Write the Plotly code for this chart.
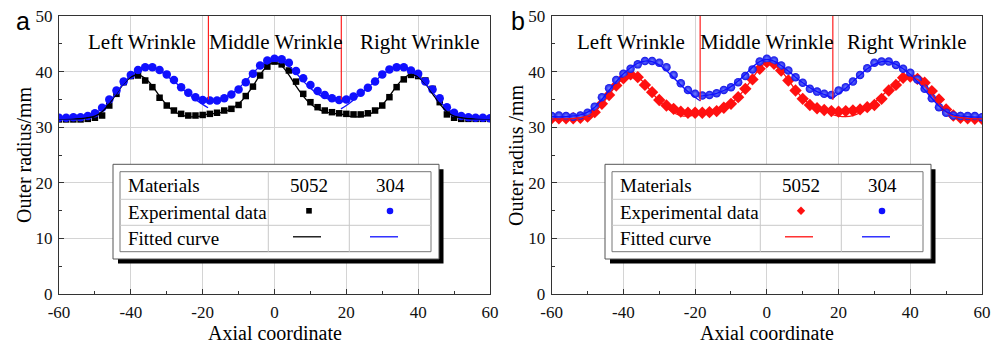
import plotly.graph_objects as go

W, H = 1003, 345
SERIF = "Liberation Serif, Times New Roman, serif"
SANS = "Liberation Sans, Arial, sans-serif"

# ---------------- data ----------------
x_pts = [-60, -58, -56, -54, -52, -50, -48, -46, -44, -42, -40, -38, -36, -34, -32, -30,
         -28, -26, -24, -22, -20, -18, -16, -14, -12, -10, -8, -6, -4, -2, 0,
         2, 4, 6, 8, 10, 12, 14, 16, 18, 20, 22, 24, 26, 28, 30,
         32, 34, 36, 38, 40, 42, 44, 46, 48, 50, 52, 54, 56, 58, 60]

# panel a
a_5052 = [31.4, 31.4, 31.4, 31.4, 31.5, 31.7, 32.1, 33.9, 36.0, 38.1,
          39.2, 39.3, 38.4, 37.2, 35.3, 33.9, 33.0, 32.4, 32.1, 32.1,
          32.2, 32.4, 32.6, 33.0, 33.3, 34.0, 35.6, 37.3, 39.3, 40.9,
          41.8,
          41.3, 40.2, 38.2, 36.0, 34.5, 33.6, 33.0, 32.7, 32.5, 32.4,
          32.3, 32.3, 32.5, 33.0, 33.9, 35.4, 37.2, 38.6, 39.4, 39.2,
          38.4, 36.9, 34.5, 32.3, 31.7, 31.5, 31.5, 31.5, 31.5, 31.5]
a_304 = [31.7, 31.7, 31.8, 31.8, 32.0, 32.5, 33.5, 35.0, 36.6, 38.2,
         39.4, 40.3, 40.8, 40.8, 40.3, 39.5, 38.5, 37.2, 36.2, 35.4,
         34.9, 34.8, 34.8, 35.2, 35.9, 36.8, 38.1, 39.6, 41.1, 42.0,
         42.3,
         42.2, 41.6, 40.1, 38.8, 37.6, 36.5, 35.8, 35.2, 34.9, 35.0,
         35.5, 36.2, 37.1, 38.2, 39.5, 40.4, 40.8, 40.8, 40.2, 39.6,
         38.2, 36.8, 35.2, 33.6, 32.6, 32.0, 31.8, 31.7, 31.7, 31.6]

# panel b
b_5052 = [31.6, 31.6, 31.6, 31.6, 31.7, 31.9, 32.7, 34.2, 35.8, 37.5,
          38.8, 39.5, 39.0, 37.6, 36.3, 34.9, 33.9, 33.3, 32.8, 32.6,
          32.6, 32.6, 32.7, 32.9, 33.5, 34.2, 35.4, 36.9, 38.6, 40.5,
          41.7,
          41.4, 40.2, 38.4, 36.6, 35.1, 34.0, 33.4, 33.1, 32.9, 32.8,
          32.9, 33.0, 33.2, 33.6, 34.0, 35.1, 36.6, 37.6, 38.9, 39.1,
          38.7, 38.0, 36.5, 35.0, 33.2, 32.1, 31.7, 31.6, 31.5, 31.5]
b_304 = [32.0, 32.1, 32.0, 31.9, 32.1, 32.6, 33.7, 35.4, 37.0, 38.5,
         39.6, 40.5, 41.3, 41.9, 41.9, 41.6, 40.8, 39.4, 37.9, 36.7,
         36.0, 35.7, 35.8, 36.1, 36.7, 37.2, 38.1, 39.2, 40.4, 41.8,
         42.3,
         42.0, 41.1, 40.2, 39.0, 38.0, 36.9, 36.4, 36.0, 35.8, 36.6,
         37.2, 38.2, 39.4, 40.6, 41.6, 41.8, 41.8, 41.2, 40.5, 39.8,
         38.6, 36.9, 35.2, 33.6, 32.6, 32.1, 32.0, 32.0, 32.0, 31.8]

# fitted curves (three wrinkle segments separated by None)
fit_x = [-60, -56, -52, -50, -48, -46, -44, -42, -40, -38, -36, -34, -32, -30, -28, -26, -24, -22, -20, -18.5,
         None,
         -18.5, -16, -14, -12, -10, -8, -6, -4, -2, 0, 2, 4, 6, 8, 10, 12, 14, 16, 18.5,
         None,
         18.5, 20, 22, 24, 26, 28, 30, 32, 34, 36, 38, 40, 42, 44, 46, 48, 50, 52, 56, 60]

a_fit_5052 = [31.5, 31.5, 31.7, 32.0, 32.8, 34.2, 36.0, 37.8, 39.0, 39.4, 38.8, 37.4, 35.6, 34.0, 32.9, 32.2, 31.9, 31.9, 32.1, 32.4,
              None,
              32.4, 32.5, 32.8, 33.3, 34.2, 35.6, 37.4, 39.4, 41.0, 41.6, 41.0, 39.4, 37.4, 35.6, 34.2, 33.3, 32.8, 32.5, 32.4,
              None,
              32.4, 32.1, 31.9, 31.9, 32.2, 32.9, 34.0, 35.6, 37.4, 38.8, 39.5, 39.0, 37.8, 36.0, 34.2, 32.8, 32.0, 31.7, 31.5, 31.5]
a_fit_304 = [31.6, 31.7, 32.0, 32.5, 33.3, 34.6, 36.2, 37.9, 39.3, 40.3, 40.8, 40.8, 40.2, 39.2, 38.3, 37.1, 36.0, 35.0, 34.1, 33.5,
             None,
             34.8, 34.9, 35.3, 36.0, 37.0, 38.3, 39.7, 41.0, 41.9, 42.2, 41.9, 41.0, 39.7, 38.3, 37.0, 36.0, 35.3, 34.9, 34.8,
             None,
             33.3, 33.9, 34.9, 36.0, 37.1, 38.3, 39.4, 40.3, 40.8, 40.8, 40.3, 39.3, 37.9, 36.3, 34.7, 33.4, 32.5, 32.0, 31.7, 31.6]
b_fit_5052 = [31.5, 31.5, 31.7, 32.0, 32.8, 34.1, 35.8, 37.5, 38.8, 39.4, 39.0, 37.8, 36.2, 34.7, 33.5, 32.6, 32.1, 32.0, 32.2, 32.4,
              None,
              32.5, 32.7, 33.0, 33.5, 34.3, 35.5, 37.0, 38.8, 40.6, 41.6, 41.2, 40.1, 38.5, 36.7, 35.2, 34.1, 33.5, 33.1, 32.9,
              None,
              32.2, 32.0, 31.9, 32.1, 32.6, 33.4, 34.4, 35.6, 36.8, 37.9, 38.7, 39.0, 38.6, 37.5, 35.9, 34.2, 32.8, 32.0, 31.6, 31.5]
b_fit_304 = [31.9, 31.9, 32.2, 32.7, 33.6, 35.0, 36.6, 38.2, 39.6, 40.7, 41.5, 41.9, 41.8, 41.2, 40.2, 38.9, 37.6, 36.4, 35.4, 34.7,
             None,
             35.6, 35.8, 36.1, 36.6, 37.3, 38.3, 39.5, 40.8, 41.8, 42.2, 41.9, 41.1, 40.1, 39.0, 38.0, 37.1, 36.4, 35.9, 35.2,
             None,
             35.3, 36.0, 37.0, 38.2, 39.4, 40.5, 41.3, 41.8, 41.8, 41.3, 40.5, 39.5, 38.2, 36.7, 35.2, 33.8, 32.8, 32.2, 31.9, 31.8]

x_ticks = [-60, -40, -20, 0, 20, 40, 60]
x_ticklabels = ["-60", "-40", "-20", "0", "20", "40", "60"]
x_minor = [-50, -30, -10, 10, 30, 50]
y_ticks = [0, 10, 20, 30, 40, 50]
y_ticklabels = ["0", "10", "20", "30", "40", "50"]
y_minor = [5, 15, 25, 35, 45]

wrinkle_labels = ["Left Wrinkle", "Middle Wrinkle", "Right Wrinkle"]
wrinkle_x_a = [-37, 0.4, 40.5]
wrinkle_x_b = [-38, 0, 39]
boundaries_a = [-18.4, 18.6]
boundaries_b = [-18.6, 18.4]
boundary_bottom_a = [35.0, 35.0]
boundary_bottom_b = [34.7, 34.9]

table_rows = ["Materials", "Experimental data", "Fitted curve"]
table_cols = ["5052", "304"]

# ---------------- figure ----------------
BLUE = "#1010ff"
RED = "#ff1010"

fig = go.Figure()

# panel a
fig.add_trace(go.Scatter(x=x_pts, y=a_5052, mode="markers", xaxis="x", yaxis="y",
                         marker=dict(symbol="square", size=6.5, color="black"), showlegend=False))
fig.add_trace(go.Scatter(x=x_pts, y=a_304, mode="markers", xaxis="x", yaxis="y",
                         marker=dict(symbol="circle", size=8.5, color=BLUE), showlegend=False))
fig.add_trace(go.Scatter(x=fit_x, y=a_fit_5052, mode="lines", xaxis="x", yaxis="y", connectgaps=False,
                         line=dict(color="black", width=1.3, shape="spline"), showlegend=False))
fig.add_trace(go.Scatter(x=fit_x, y=a_fit_304, mode="lines", xaxis="x", yaxis="y", connectgaps=False,
                         line=dict(color=BLUE, width=1.3, shape="spline"), showlegend=False))

# panel b
fig.add_trace(go.Scatter(x=x_pts, y=b_5052, mode="markers", xaxis="x2", yaxis="y2",
                         marker=dict(symbol="diamond", size=9.5, color=RED), showlegend=False))
fig.add_trace(go.Scatter(x=x_pts, y=b_304, mode="markers", xaxis="x2", yaxis="y2",
                         marker=dict(symbol="circle", size=8.5, color="#1414e8",
                                     gradient=dict(type="radial", color="#6f80ff")), showlegend=False))
fig.add_trace(go.Scatter(x=fit_x, y=b_fit_5052, mode="lines", xaxis="x2", yaxis="y2", connectgaps=False,
                         line=dict(color=RED, width=1.3, shape="spline"), showlegend=False))
fig.add_trace(go.Scatter(x=fit_x, y=b_fit_304, mode="lines", xaxis="x2", yaxis="y2", connectgaps=False,
                         line=dict(color=BLUE, width=1.3, shape="spline"), showlegend=False))


def px(x):
    return x / W


def py(y):
    return 1 - y / H


Y0, Y1 = 16, 294
XA0, XA1 = 59, 490
XB0, XB1 = 551.7, 982

axis_font = dict(family=SERIF, size=17, color="#111")


def xaxis(domain, anchor):
    return dict(domain=[px(domain[0]), px(domain[1])], anchor=anchor, range=[-60, 60],
                tickmode="array", tickvals=x_ticks, ticktext=x_ticklabels,
                showgrid=True, gridcolor="#d4d4d4", gridwidth=1, zeroline=False,
                showline=True, linecolor="#333", linewidth=1.3, mirror=True,
                ticks="inside", ticklen=5, tickcolor="#333", tickwidth=1,
                ticklabelstandoff=2,
                minor=dict(tickmode="array", tickvals=x_minor, ticks="inside", ticklen=3,
                           tickcolor="#333", showgrid=False),
                tickfont=axis_font, automargin=False, fixedrange=True)


def yaxis(anchor):
    return dict(domain=[py(Y1), py(Y0)], anchor=anchor, range=[0, 50],
                tickmode="array", tickvals=y_ticks, ticktext=y_ticklabels,
                showgrid=True, gridcolor="#d4d4d4", gridwidth=1, zeroline=False,
                showline=True, linecolor="#333", linewidth=1.3, mirror=True,
                ticks="inside", ticklen=5, tickcolor="#333", tickwidth=1,
                ticklabelstandoff=2,
                minor=dict(tickmode="array", tickvals=y_minor, ticks="inside", ticklen=3,
                           tickcolor="#333", showgrid=False),
                tickfont=axis_font, automargin=False, fixedrange=True)


shapes = []
annotations = []

# red boundary lines and wrinkle labels
for xr, yr, bnds, bots, wx in [("x", "y", boundaries_a, boundary_bottom_a, wrinkle_x_a),
                               ("x2", "y2", boundaries_b, boundary_bottom_b, wrinkle_x_b)]:
    for b, bot in zip(bnds, bots):
        shapes.append(dict(type="line", xref=xr, yref=yr, x0=b, x1=b, y0=bot, y1=50,
                           line=dict(color="#ff2020", width=1.2), layer="above"))
    for lab, xv in zip(wrinkle_labels, wx):
        annotations.append(dict(xref=xr, yref=yr, x=xv, y=45.3, text=lab, showarrow=False,
                                font=dict(family=SERIF, size=21, color="black"),
                                xanchor="center", yanchor="middle"))

# legend tables (pixel geometry)
for dx, sym_col, sym in [(0, "black", "square"), (492, RED, "diamond")]:
    ox0, ox1, oy0, oy1 = 113 + dx, 439 + dx, 164.3, 259
    # shadow
    shapes.append(dict(type="rect", xref="paper", yref="paper",
                       x0=px(ox0 + 5), x1=px(ox1 + 4.5), y0=py(oy1 + 4.5), y1=py(oy0 + 5),
                       fillcolor="black", line=dict(width=0), layer="above"))
    # outer frame
    shapes.append(dict(type="rect", xref="paper", yref="paper",
                       x0=px(ox0), x1=px(ox1), y0=py(oy1), y1=py(oy0),
                       fillcolor="white", line=dict(color="#555", width=1), layer="above"))
    # inner table
    ix0, ix1, iy0, iy1 = 120 + dx, 431 + dx, 171.7, 251.7
    shapes.append(dict(type="rect", xref="paper", yref="paper",
                       x0=px(ix0), x1=px(ix1), y0=py(iy1), y1=py(iy0),
                       fillcolor="white", line=dict(color="#777", width=1), layer="above"))
    for ry in [199.3, 225.3]:
        shapes.append(dict(type="line", xref="paper", yref="paper",
                           x0=px(ix0), x1=px(ix1), y0=py(ry), y1=py(ry),
                           line=dict(color="#c8c8c8", width=1), layer="above"))
    for cx in [268.3 + dx, 349.3 + dx]:
        shapes.append(dict(type="line", xref="paper", yref="paper",
                           x0=px(cx), x1=px(cx), y0=py(iy1), y1=py(iy0),
                           line=dict(color="#c8c8c8", width=1), layer="above"))
    row_y = [185.5, 212.3, 238.5]
    for lab, ry in zip(table_rows, row_y):
        annotations.append(dict(xref="paper", yref="paper", x=px(126 + dx), y=py(ry), text=lab,
                                showarrow=False, xanchor="left", yanchor="middle",
                                font=dict(family=SERIF, size=19, color="black")))
    for lab, cx in zip(table_cols, [309 + dx, 390 + dx]):
        annotations.append(dict(xref="paper", yref="paper", x=px(cx), y=py(row_y[0]), text=lab,
                                showarrow=False, xanchor="center", yanchor="middle",
                                font=dict(family=SERIF, size=19, color="black")))
    # legend symbols
    mx, my = 309 + dx, 210.8
    if sym == "square":
        shapes.append(dict(type="rect", xref="paper", yref="paper",
                           x0=px(mx - 2.8), x1=px(mx + 2.8), y0=py(my + 2.8), y1=py(my - 2.8),
                           fillcolor="black", line=dict(width=0), layer="above"))
    else:
        r = 4.2
        path = "M {} {} L {} {} L {} {} L {} {} Z".format(
            px(mx), py(my - r), px(mx + r), py(my), px(mx), py(my + r), px(mx - r), py(my))
        shapes.append(dict(type="path", xref="paper", yref="paper", path=path,
                           fillcolor=RED, line=dict(width=0), layer="above"))
    bx = 390 + dx
    shapes.append(dict(type="circle", xref="paper", yref="paper",
                       x0=px(bx - 3.3), x1=px(bx + 3.3), y0=py(my + 3.5), y1=py(my - 3.1),
                       fillcolor=BLUE, line=dict(width=0), layer="above"))
    ly = 236.8
    shapes.append(dict(type="line", xref="paper", yref="paper",
                       x0=px(293 + dx), x1=px(321 + dx), y0=py(ly), y1=py(ly),
                       line=dict(color=sym_col, width=1.3), layer="above"))
    shapes.append(dict(type="line", xref="paper", yref="paper",
                       x0=px(370 + dx), x1=px(398 + dx), y0=py(ly), y1=py(ly),
                       line=dict(color=BLUE, width=1.3), layer="above"))

# axis titles and panel labels
for cx, ylab_x, ylab, plab, plab_x in [(275, 24, "Outer radius/mm", "a", 22.5),
                                        (767, 516, "Outer radius /mm", "b", 518)]:
    annotations.append(dict(xref="paper", yref="paper", x=px(cx), y=py(333), text="Axial coordinate",
                            showarrow=False, xanchor="center", yanchor="middle",
                            font=dict(family=SERIF, size=20, color="black")))
    annotations.append(dict(xref="paper", yref="paper", x=px(ylab_x), y=py(155), text=ylab,
                            showarrow=False, xanchor="center", yanchor="middle", textangle=-90,
                            font=dict(family=SERIF, size=20, color="black")))
    annotations.append(dict(xref="paper", yref="paper", x=px(plab_x), y=py(21), text=plab,
                            showarrow=False, xanchor="center", yanchor="middle",
                            font=dict(family=SANS, size=25, color="black")))

fig.update_layout(
    width=W, height=H,
    margin=dict(l=0, r=0, t=0, b=0),
    paper_bgcolor="white", plot_bgcolor="white",
    xaxis=xaxis((XA0, XA1), "y"),
    yaxis=yaxis("x"),
    xaxis2=xaxis((XB0, XB1), "y2"),
    yaxis2=yaxis("x2"),
    shapes=shapes,
    annotations=annotations,
    showlegend=False,
)

fig.write_html("out.html")
